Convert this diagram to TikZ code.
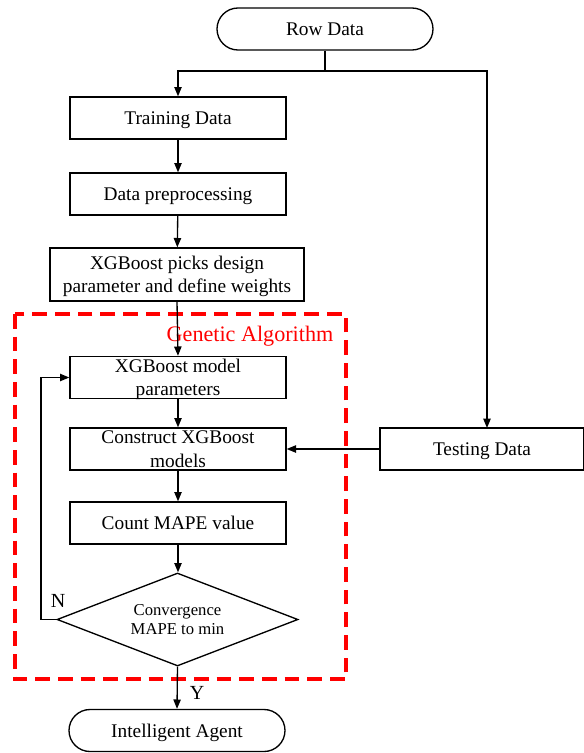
\documentclass[tikz,border=0pt]{standalone}
\usepackage{fontspec}
\setmainfont{Liberation Serif}
\usetikzlibrary{arrows.meta,shapes.geometric,shapes.misc}
\begin{document}
\begin{tikzpicture}[x=0.75pt,y=-0.75pt,
  box/.style={draw,line width=1pt,rectangle,minimum width=162pt,minimum height=31.5pt,inner sep=0pt,text depth=-1pt,align=center,font=\fontsize{14.5}{17.5}\selectfont},
  term/.style={box,rounded rectangle},
  decision/.style={draw,line width=1pt,diamond,aspect=2.6,minimum width=180.75pt,minimum height=69.75pt,inner sep=0pt,text depth=-1pt,align=center,font=\fontsize{12.5}{14.25}\selectfont},
  arr/.style={-{Triangle[length=7pt,width=5.5pt]},line width=1pt},
  ln/.style={line width=1pt},
  lbl/.style={inner sep=0pt,font=\fontsize{15}{18}\selectfont}]
\useasboundingbox (0,0) rectangle (584,753);
% genetic algorithm frame
\draw[red,line width=2.4pt,dash pattern=on 11pt off 6pt] (15,314) rectangle (346,679);
\node[text=red,inner sep=0pt,font=\fontsize{16.6}{20}\selectfont] (ga) at (250,336) {Genetic Algorithm};
% nodes
\node[term] (row) at (325,29) {Row Data};
\node[box] (train) at (178,118) {Training Data};
\node[box] (prep) at (178,194) {Data preprocessing};
\node[box,minimum width=190.5pt,minimum height=39.75pt] (pick) at (177,274.5) {XGBoost picks design\\parameter and define weights};
\node[box] (param) at (178,377.5) {XGBoost model\\parameters};
\node[box] (cons) at (178,449) {Construct XGBoost\\models};
\node[box] (count) at (178,523) {Count MAPE value};
\node[decision] (dec) at (177.5,619.5) {Convergence\\MAPE to min};
\node[box,minimum width=153pt] (test) at (482,449) {Testing Data};
\node[term] (agent) at (177,730.5) {Intelligent Agent};
\node[lbl] (nlab) at (58,601) {N};
\node[lbl] (ylab) at (197,693) {Y};
% connectors
\coordinate (split) at (325,71);
\coordinate (tl) at (178,71);
\coordinate (tr) at (487,71);
\coordinate (tin) at (487,428);
\coordinate (lb) at (41,619.5);
\coordinate (lt) at (41,377.5);
\draw[ln] (row.south) -- (split);
\draw[arr] (split) -- (tl) -- (train.north);
\draw[arr] (split) -- (tr) -- (tin);
\draw[arr] (train) -- (prep);
\draw[arr] (prep) -- (pick);
\draw[arr] (pick.south) -- (param.north);
\draw[arr] (param) -- (cons);
\draw[arr] (cons) -- (count);
\draw[arr] (count.south) -- (count.south |- dec.north);
\draw[arr] (dec.south) -- (agent.north);
\draw[arr] (test.west) -- (cons.east);
\draw[arr] (dec.west) -- (lb) -- (lt) -- (param.west);
\end{tikzpicture}
\end{document}
